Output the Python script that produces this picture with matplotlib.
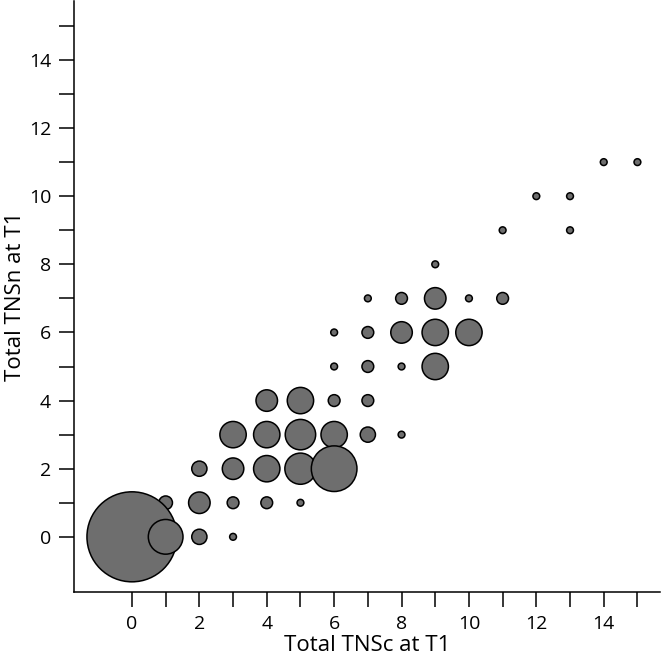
import matplotlib
matplotlib.use("Agg")
import matplotlib.pyplot as plt
import numpy as np

plt.rcParams['font.family'] = ['Open Sans', 'DejaVu Sans']

# (TNSc, TNSn, count) sorted by TNSn descending, then TNSc ascending (draw order)
tnsc = [14, 15, 12, 13, 11, 13, 9, 7, 8, 9, 10, 11, 6, 7, 8, 9, 10, 6, 7, 8, 9,
        4, 5, 6, 7, 3, 4, 5, 6, 7, 8, 2, 3, 4, 5, 6, 1, 2, 3, 4, 5, 0, 1, 2, 3]
tnsn = [11, 11, 10, 10, 9, 9, 8, 7, 7, 7, 7, 7, 6, 6, 6, 6, 6, 5, 5, 5, 5,
        4, 4, 4, 4, 3, 3, 3, 3, 3, 3, 2, 2, 2, 2, 2, 1, 1, 1, 1, 1, 0, 0, 0, 0]
counts = [1, 1, 1, 1, 1, 1, 1, 1, 3, 10, 1, 3, 1, 3, 10, 15, 15, 1, 3, 1, 15,
          10, 15, 3, 3, 15, 15, 20, 15, 5, 1, 5, 10, 15, 21, 45, 4, 10, 3, 3, 1, 175, 26, 5, 1]

fig = plt.figure(figsize=(6.68, 6.63), dpi=100)
ax = fig.add_axes([74 / 668, 71 / 663, (660 - 74) / 668, (663 - 71 - 1) / 663])

sizes = np.array(counts) * 24.0
ax.scatter(tnsc, tnsn, s=sizes, c='#6e6e6e', edgecolors='black', linewidths=1.1, zorder=3)

ax.set_xlim(-1.72, 15.67)
ax.set_ylim(-1.62, 15.73)
ax.set_xticks(np.arange(0, 16, 2))
ax.set_xticks(np.arange(1, 16, 2), minor=True)
ax.set_yticks(np.arange(0, 16, 2))
ax.set_yticks(np.arange(1, 16, 2), minor=True)
for s in ['top', 'right']:
    ax.spines[s].set_visible(False)
for s in ['left', 'bottom']:
    ax.spines[s].set_linewidth(1.1)
ax.tick_params(which='both', direction='out', length=10.5, width=1.1, labelsize=14, pad=6)
ax.set_xlabel('Total TNSc at T1', fontsize=16)
ax.set_ylabel('Total TNSn at T1', fontsize=16)
ax.xaxis.set_label_coords(0.5, -0.072)
ax.yaxis.set_label_coords(-0.082, 0.5)

fig.savefig('out.png', dpi=100)
